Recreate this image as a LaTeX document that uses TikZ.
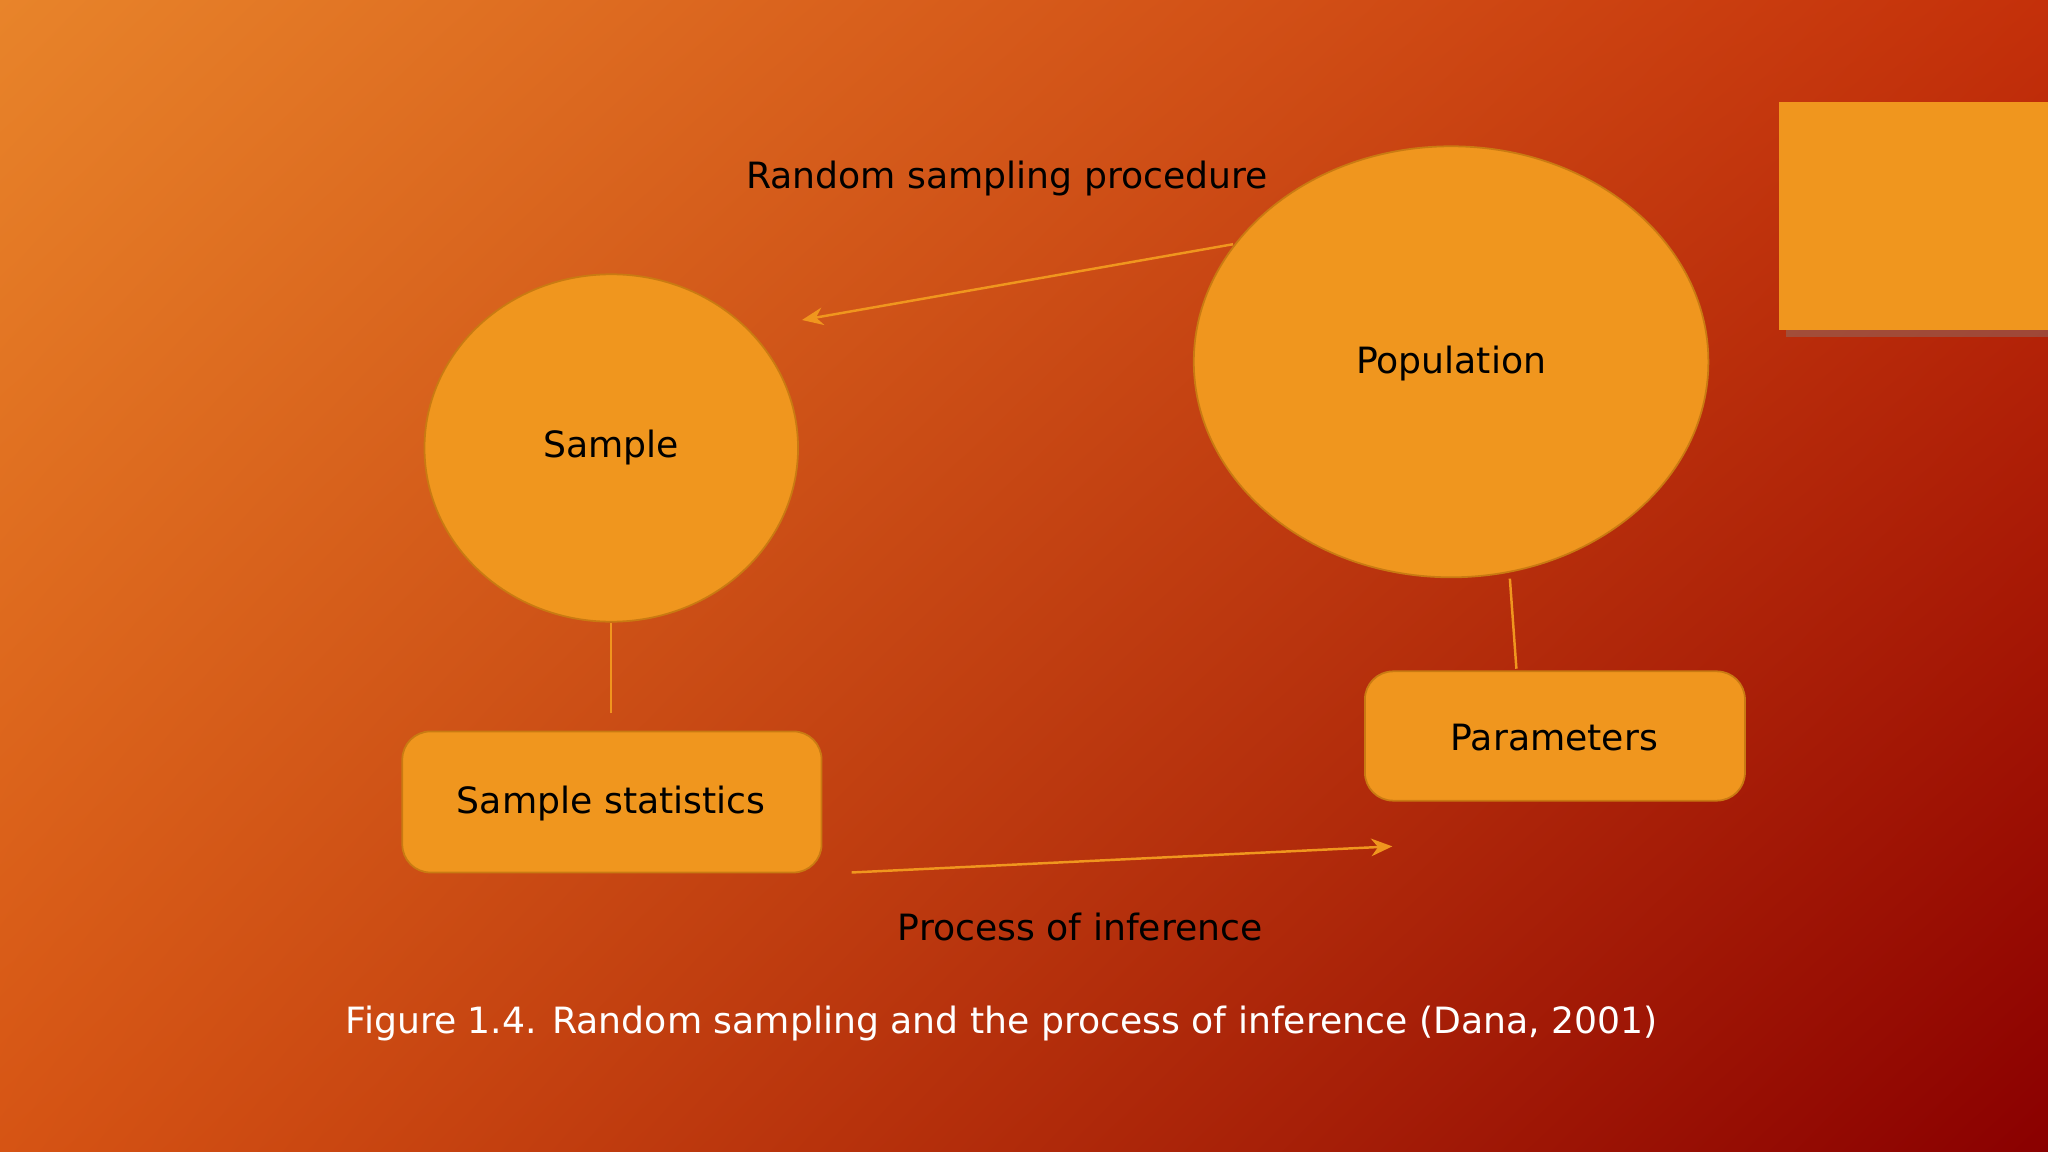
\documentclass[tikz,border=0pt]{standalone}
\usepackage{fontspec}
\setmainfont{DejaVu Sans}
\usetikzlibrary{arrows.meta,shadows,shadings}
\definecolor{box}{HTML}{F0961E}
\definecolor{boxline}{HTML}{C97A12}
\definecolor{bgul}{RGB}{232,132,42}
\definecolor{bgur}{RGB}{196,48,10}
\definecolor{bgll}{RGB}{214,84,20}
\definecolor{bglr}{RGB}{138,0,0}
\begin{document}
\begin{tikzpicture}[x=0.01306cm,y=-0.01306cm,
  shapebox/.style={fill=box,draw=boxline,line width=0.5pt},
  lbl/.style={font=\fontsize{10.3}{12}\selectfont,text=black},
  conn/.style={draw=box,line width=0.7pt}]
\useasboundingbox (0,0) rectangle (1568,882);
\shade[upper left=bgul,upper right=bgur,lower left=bgll,lower right=bglr] (0,0) rectangle (1568,882);
\fill[box,drop shadow={shadow xshift=2pt,shadow yshift=-2pt,opacity=0.4}] (1362,78) rectangle (1568,253);
\draw[shapebox] (468,343) ellipse [x radius=143,y radius=133];
\draw[shapebox] (1111,277) ellipse [x radius=197,y radius=165];
\draw[shapebox,rounded corners=8pt] (308,560) rectangle (629,668);
\draw[shapebox,rounded corners=8pt] (1045,514) rectangle (1336,613);
\node[lbl] (sample) at (468,343) {Sample};
\node[lbl] (pop) at (1111,278) {Population};
\node[lbl] (stats) at (468,615) {Sample statistics};
\node[lbl] (par) at (1190,565) {Parameters};
\node[lbl] (rsp) at (771,137) {Random sampling procedure};
\node[lbl] (poi) at (827,710) {Process of inference};
\node[font=\fontsize{10.3}{12}\selectfont,text=white] (cap) at (767,784) {Figure 1.4. Random sampling and the process of inference (Dana, 2001)};
\coordinate (a1) at (944,187); \coordinate (a2) at (614,245);
\coordinate (b1) at (468,477); \coordinate (b2) at (468,546);
\coordinate (c1) at (1156,443); \coordinate (c2) at (1161,512);
\coordinate (d1) at (652,668); \coordinate (d2) at (1066,648);
\draw[conn,-{Stealth[length=6pt,width=5pt]}] (a1) -- (a2);
\draw[conn] (b1) -- (b2);
\draw[conn] (c1) -- (c2);
\draw[conn,-{Stealth[length=6pt,width=5pt]}] (d1) -- (d2);
\end{tikzpicture}
\end{document}
